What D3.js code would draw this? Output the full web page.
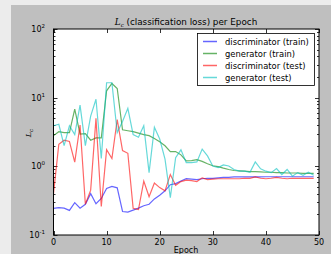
<!DOCTYPE html>
<html>
<head>
<meta charset="utf-8">
<script src="https://cdn.jsdelivr.net/npm/d3@7"></script>
<style>
  body { margin: 0; background: #ececec; }
  svg { display: block; font-family: "DejaVu Sans", sans-serif; }
</style>
</head>
<body>
<svg id="chart" width="331" height="254"></svg>
<script>
var epochs = d3.range(0, 50)

var discTrain = [0.244, 0.25, 0.246, 0.228, 0.296, 0.246, 0.28, 0.40, 0.285, 0.34,
  0.475, 0.51, 0.486, 0.22, 0.216, 0.23, 0.246, 0.267, 0.28, 0.335,
  0.38, 0.44, 0.54, 0.56, 0.61, 0.66, 0.65, 0.64, 0.66, 0.67,
  0.67, 0.68, 0.69, 0.69, 0.70, 0.70, 0.70, 0.70, 0.70, 0.70,
  0.705, 0.705, 0.705, 0.705, 0.705, 0.705, 0.705, 0.705, 0.705, 0.705]

var genTrain = [2.8, 3.2, 3.1, 3.1, 6.8, 2.95, 3.0, 2.4, 2.6, 2.6,
  12.6, 16.1, 13.6, 3.4, 3.3, 3.2, 3.05, 2.9, 2.8, 2.55,
  2.28, 1.99, 1.64, 1.64, 1.47, 1.2, 1.21, 1.25, 1.18, 1.09,
  1.02, 0.99, 0.94, 0.90, 0.87, 0.86, 0.85, 0.84, 0.84, 0.83,
  0.82, 0.82, 0.81, 0.81, 0.80, 0.80, 0.80, 0.79, 0.79, 0.79]

var discTest = [0.40, 2.1, 2.4, 2.3, 1.15, 4.0, 0.28, 0.45, 5.0, 0.26,
  1.75, 1.3, 4.8, 1.7, 1.55, 0.245, 0.235, 0.61, 0.36, 0.57,
  0.49, 0.44, 0.76, 0.53, 0.60, 0.63, 0.62, 0.60, 0.68, 0.64,
  0.65, 0.66, 0.66, 0.66, 0.66, 0.66, 0.67, 0.67, 0.70, 0.67,
  0.66, 0.67, 0.69, 0.67, 0.66, 0.67, 0.67, 0.67, 0.67, 0.67]

var genTest = [3.9, 4.1, 2.0, 3.9, 2.9, 7.8, 2.0, 5.4, 9.5, 1.3,
  16.5, 16.5, 3.1, 4.5, 7.0, 2.9, 2.65, 3.9, 0.81, 3.7,
  2.5, 1.27, 0.35, 1.34, 1.74, 1.13, 1.13, 1.16, 1.78, 1.42,
  1.01, 0.96, 1.05, 1.01, 0.90, 0.85, 0.85, 0.82, 1.16, 0.92,
  0.85, 0.81, 0.93, 0.76, 0.90, 0.72, 0.81, 0.74, 0.82, 0.74]

var seriesNames = ["discriminator (train)", "generator (train)", "discriminator (test)", "generator (test)"]
var seriesColors = ["#0000ff", "#008000", "#ff0000", "#00bfbf"]
var seriesData = [discTrain, genTrain, discTest, genTest]

var xTicks = [0, 10, 20, 30, 40, 50]
var yTicks = [-1, 0, 1, 2]

var margin = {left: 53.5, right: 319, top: 29, bottom: 235}

var svg = d3.select("#chart")

// figure background
svg.append("rect")
  .attr("x", 11).attr("y", 5)
  .attr("width", 320).attr("height", 249)
  .attr("fill", "#bfbfbf")

svg.append("rect")
  .attr("x", margin.left).attr("y", margin.top)
  .attr("width", margin.right - margin.left)
  .attr("height", margin.bottom - margin.top)
  .attr("fill", "#ffffff")

var x = d3.scaleLinear().domain([0, 50]).range([margin.left, margin.right])
var y = d3.scaleLog().domain([0.1, 100]).range([margin.bottom, margin.top])

// minor log ticks
var minor = []
for (var e = -1; e < 2; e++) {
  for (var m = 2; m < 10; m++) minor.push(m * Math.pow(10, e))
}

var ticks = svg.append("g").attr("stroke", "#000").attr("stroke-width", 0.8)
minor.forEach(function(v) {
  var yy = Math.round(y(v)) + 0.5
  ticks.append("line").attr("x1", margin.left).attr("x2", margin.left + 2).attr("y1", yy).attr("y2", yy)
  ticks.append("line").attr("x1", margin.right).attr("x2", margin.right - 2).attr("y1", yy).attr("y2", yy)
})
yTicks.forEach(function(p) {
  var yy = Math.round(y(Math.pow(10, p))) + 0.5
  ticks.append("line").attr("x1", margin.left).attr("x2", margin.left + 4).attr("y1", yy).attr("y2", yy)
  ticks.append("line").attr("x1", margin.right).attr("x2", margin.right - 4).attr("y1", yy).attr("y2", yy)
})
xTicks.forEach(function(t) {
  var xx = Math.round(x(t)) + 0.5
  ticks.append("line").attr("x1", xx).attr("x2", xx).attr("y1", margin.bottom).attr("y2", margin.bottom - 4)
  ticks.append("line").attr("x1", xx).attr("x2", xx).attr("y1", margin.top).attr("y2", margin.top + 4)
})

// lines
var line = d3.line()
  .x(function(d, i) { return x(epochs[i]) })
  .y(function(d) { return y(d) })

svg.append("clipPath").attr("id", "clip")
  .append("rect")
  .attr("x", margin.left).attr("y", margin.top)
  .attr("width", margin.right - margin.left)
  .attr("height", margin.bottom - margin.top)

svg.append("g").attr("clip-path", "url(#clip)")
  .selectAll("path")
  .data(seriesData)
  .enter()
  .append("path")
    .attr("d", line)
    .attr("fill", "none")
    .attr("stroke", function(d, i) { return seriesColors[i] })
    .attr("stroke-opacity", 0.6)
    .attr("stroke-width", 1.2)

// frame
svg.append("rect")
  .attr("x", margin.left).attr("y", margin.top)
  .attr("width", margin.right - margin.left)
  .attr("height", margin.bottom - margin.top)
  .attr("fill", "none")
  .attr("stroke", "#000")
  .attr("stroke-width", 1)

// tick labels
svg.append("g").selectAll("text")
  .data(xTicks)
  .enter()
  .append("text")
    .attr("x", function(d) { return x(d) })
    .attr("y", 245)
    .attr("text-anchor", "middle")
    .attr("font-size", 8)
    .attr("fill", "#000")
    .text(function(d) { return d })

var yl = svg.append("g").selectAll("text")
  .data(yTicks)
  .enter()
  .append("text")
    .attr("x", 45)
    .attr("y", function(d) { return y(Math.pow(10, d)) + 3 })
    .attr("text-anchor", "end")
    .attr("font-size", 8)
    .attr("fill", "#000")
yl.append("tspan").text("10")
yl.append("tspan").attr("dy", -4).attr("font-size", 5.5).text(function(d) { return d })

// title
var title = svg.append("text")
  .attr("x", 186).attr("y", 25)
  .attr("text-anchor", "middle")
  .attr("font-size", 8.8)
  .attr("fill", "#000")
title.append("tspan").attr("font-style", "italic").attr("font-family", "DejaVu Serif").text("L")
title.append("tspan").attr("font-size", 5.5).attr("dy", 1.5).attr("font-style", "italic").attr("font-family", "DejaVu Serif").text("c")
title.append("tspan").attr("dy", -1.5).text(" (classification loss) per Epoch")

// axis labels
svg.append("text")
  .attr("x", 186).attr("y", 253)
  .attr("text-anchor", "middle")
  .attr("font-size", 8)
  .attr("fill", "#000")
  .text("Epoch")

var ylab = svg.append("text")
  .attr("transform", "translate(31,133) rotate(-90)")
  .attr("text-anchor", "middle")
  .attr("font-size", 8)
  .attr("fill", "#000")
ylab.append("tspan").attr("font-style", "italic").attr("font-family", "DejaVu Serif").text("L")
ylab.append("tspan").attr("font-size", 5.5).attr("dy", 1.5).attr("font-style", "italic").attr("font-family", "DejaVu Serif").text("c")

// legend
var legend = svg.append("g")
legend.append("rect")
  .attr("x", 197.5).attr("y", 33.5)
  .attr("width", 117).attr("height", 52)
  .attr("fill", "#fff")
  .attr("stroke", "#000")
  .attr("stroke-width", 0.8)

seriesNames.forEach(function(name, i) {
  var ly = 41.5 + i * 12
  legend.append("line")
    .attr("x1", 203).attr("x2", 217)
    .attr("y1", ly).attr("y2", ly)
    .attr("stroke", seriesColors[i])
    .attr("stroke-opacity", 0.6)
    .attr("stroke-width", 1.5)
  legend.append("text")
    .attr("x", 225).attr("y", ly + 3)
    .attr("font-size", 8.4)
    .attr("fill", "#000")
    .text(name)
})
</script>
</body>
</html>
